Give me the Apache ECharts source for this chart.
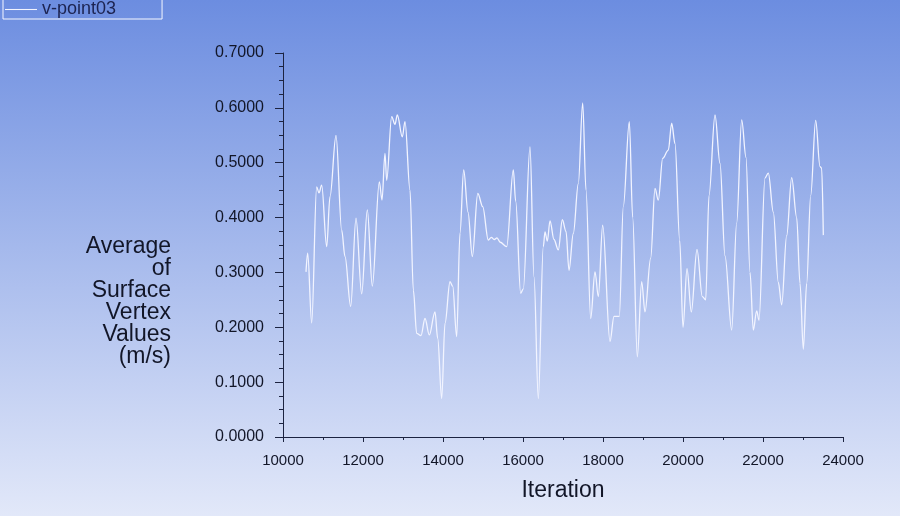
<!DOCTYPE html>
<html>
<head>
<meta charset="utf-8">
<script src="https://cdn.jsdelivr.net/npm/echarts@6/dist/echarts.min.js"></script>
<style>
html,body{margin:0;padding:0;}
#chart{width:900px;height:516px;}
</style>
</head>
<body>
<div id="chart"></div>
<script>
var seriesName = 'v-point03';
var xTitle = 'Iteration';
var yTitleLines = ['Average', 'of', 'Surface', 'Vertex', 'Values', '(m/s)'];
var iterations = [10575,10617,10717,10842,10900,10967,11092,11175,11325,11467,11550,11692,11825,11967,12108,12233,12408,12475,12550,12592,12717,12800,12858,12983,13050,13175,13258,13342,13450,13550,13658,13800,13867,13967,14050,14175,14242,14342,14425,14517,14625,14733,14870,14992,15133,15208,15280,15350,15430,15592,15758,15817,15942,16008,16175,16275,16383,16508,16550,16608,16675,16775,16883,16983,17075,17150,17258,17383,17492,17575,17692,17800,17883,17992,18175,18275,18408,18508,18658,18742,18858,18967,19050,19192,19300,19383,19492,19633,19717,19800,19917,20000,20100,20208,20350,20483,20567,20650,20800,20925,21050,21217,21342,21467,21575,21675,21758,21842,21900,22050,22133,22258,22383,22467,22592,22717,22842,22925,23008,23092,23192,23317,23425,23467,23508];
var velocities = [0.301,0.335,0.208,0.456,0.445,0.459,0.347,0.438,0.550,0.377,0.329,0.238,0.399,0.261,0.414,0.275,0.465,0.432,0.517,0.468,0.584,0.570,0.587,0.547,0.575,0.450,0.268,0.189,0.185,0.216,0.186,0.228,0.180,0.070,0.207,0.283,0.275,0.183,0.372,0.487,0.410,0.329,0.444,0.420,0.359,0.364,0.360,0.363,0.355,0.347,0.487,0.430,0.262,0.270,0.529,0.292,0.070,0.347,0.374,0.357,0.394,0.360,0.341,0.396,0.375,0.304,0.371,0.462,0.609,0.450,0.216,0.301,0.256,0.386,0.174,0.220,0.220,0.420,0.575,0.400,0.146,0.283,0.228,0.326,0.453,0.432,0.508,0.523,0.572,0.535,0.359,0.200,0.307,0.228,0.342,0.256,0.250,0.440,0.587,0.499,0.330,0.195,0.390,0.578,0.510,0.300,0.195,0.230,0.213,0.472,0.481,0.410,0.282,0.241,0.367,0.473,0.400,0.280,0.160,0.280,0.440,0.577,0.493,0.490,0.368];

var points = iterations.map(function(x, i){ return [x, velocities[i]]; });
var axisColor = '#1c2340';
var textColor = '#121628';
var font = '"Liberation Sans", Arial, sans-serif';

var titleGraphics = yTitleLines.map(function(t, i){
  return {
    type: 'text', right: 900 - 171, top: 235 + i * 22,
    style: {text: t, fill: textColor, fontSize: 23, fontFamily: font}
  };
});

var chart = echarts.init(document.getElementById('chart'));
chart.setOption({
  animation: false,
  backgroundColor: {
    type: 'linear', x: 0, y: 0, x2: 0, y2: 1,
    colorStops: [{offset: 0, color: '#6c8de0'}, {offset: 1, color: '#e2e8f9'}]
  },
  legend: {
    left: 3, top: -2,
    padding: [2, 46, 0, 2],
    borderColor: '#f4f6ff', borderWidth: 1,
    itemWidth: 32, itemHeight: 10, itemGap: 4,
    textStyle: {color: '#1c2350', fontSize: 18, fontFamily: font, lineHeight: 19},
    data: [{name: seriesName, icon: 'path://M0,5L30,5L30,6L0,6Z'}]
  },
  grid: {left: 283, right: 57, top: 53, bottom: 79},
  xAxis: {
    type: 'value', min: 10000, max: 24000, interval: 2000,
    name: xTitle, nameLocation: 'middle', nameGap: 42,
    nameTextStyle: {color: textColor, fontSize: 23, fontFamily: font},
    axisLine: {show: true, lineStyle: {color: axisColor, width: 1}},
    axisTick: {show: true, length: 5, lineStyle: {color: axisColor}},
    minorTick: {show: true, splitNumber: 2, length: 3, lineStyle: {color: axisColor}},
    axisLabel: {color: textColor, fontSize: 15, fontFamily: font, margin: 16,
      formatter: function(v){ return String(v); }},
    splitLine: {show: false}
  },
  yAxis: {
    type: 'value', min: 0, max: 0.7, interval: 0.1,
    axisLine: {show: true, lineStyle: {color: axisColor, width: 1}},
    axisTick: {show: true, length: 8, lineStyle: {color: axisColor}},
    minorTick: {show: true, splitNumber: 4, length: 4, lineStyle: {color: axisColor}},
    axisLabel: {color: textColor, fontSize: 16, fontFamily: font, margin: 19,
      formatter: function(v){ return v.toFixed(4); }},
    splitLine: {show: false}
  },
  graphic: titleGraphics,
  series: [{
    name: seriesName, type: 'line', data: points,
    showSymbol: false, symbol: 'none',
    smooth: 0.35, smoothMonotone: 'x',
    lineStyle: {color: '#f2f4ff', width: 1.3},
    itemStyle: {color: '#f2f4ff'}
  }]
});
</script>
</body>
</html>
